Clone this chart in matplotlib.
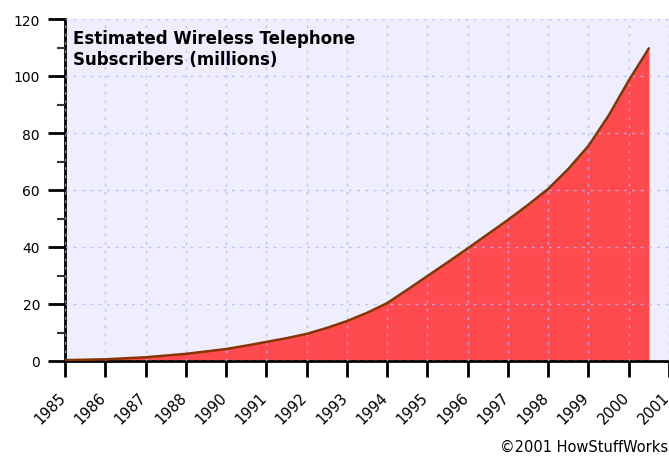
import matplotlib.pyplot as plt
import matplotlib.transforms as mtransforms
from matplotlib.ticker import MultipleLocator

# tick labels as printed on the chart (1989 is skipped in the original)
year_labels = ['1985', '1986', '1987', '1988', '1990', '1991', '1992', '1993',
               '1994', '1995', '1996', '1997', '1998', '1999', '2000', '2001']
# curve points, x in tick-slot units, y in millions
subs_x = [0, 1, 2, 3, 4, 4.5, 5, 5.5, 6, 6.5, 7, 7.5, 8, 8.5, 9, 9.5, 10,
          10.5, 11, 11.5, 12, 12.5, 13, 13.5, 14, 14.5]
subs_y = [0.3, 0.6, 1.3, 2.5, 4.2, 5.4, 6.7, 8.0, 9.5, 11.6, 14.0, 16.9,
          20.3, 25.0, 29.8, 34.6, 39.5, 44.5, 49.5, 54.8, 60.4, 67.4, 75.5,
          86.1, 98.4, 109.7]

fig = plt.figure(figsize=(6.69, 4.6), dpi=100)
ax = fig.add_axes([65 / 669, 1 - 362 / 460, 1 - 65 / 669, (362 - 20) / 460])
ax.set_facecolor('#eeeeff')

ax.fill_between(subs_x, subs_y, 0, color='#ff4a50', lw=0, zorder=1)
ax.plot(subs_x, subs_y, color='#8b3300', lw=1.8, solid_capstyle='round', zorder=3)

ax.set_xlim(0, 604 / 40.7)
ax.set_ylim(0, 120)
ax.set_xticks(range(len(year_labels)))
ax.set_xticklabels(year_labels, rotation=45, ha='right', va='top',
                   rotation_mode='anchor', fontsize=10.5)
ax.yaxis.set_major_locator(MultipleLocator(20))
ax.yaxis.set_minor_locator(MultipleLocator(10))
ax.tick_params(axis='y', which='major', length=12, width=2, labelsize=10, pad=6)
ax.tick_params(axis='y', which='minor', length=6, width=1.5, color='#333333')
ax.tick_params(axis='x', length=11.5, width=2, pad=3)

# nudge the slanted year labels so they hang left of their ticks like the original
shift = mtransforms.ScaledTranslation(-5 / 72, -6 / 72, fig.dpi_scale_trans)
for lab in ax.get_xticklabels():
    lab.set_transform(lab.get_transform() + shift)

ax.grid(True, which='major', color='#b4b4ff', ls=(0, (2, 4)), lw=1, alpha=0.8, zorder=2)
ax.set_axisbelow(False)

for s in ['top', 'right']:
    ax.spines[s].set_visible(False)
ax.spines['left'].set_linewidth(2)
ax.spines['bottom'].set_linewidth(2)

ax.text(8 / 604, 0.97, 'Estimated Wireless Telephone\nSubscribers (millions)',
        transform=ax.transAxes, ha='left', va='top', fontsize=12,
        fontweight='bold', linespacing=1.2)

fig.text(0.999, 1 - 447 / 460, '\u00a92001 HowStuffWorks', ha='right',
         va='center', fontsize=10.5)

fig.savefig('out.png', dpi=100)
